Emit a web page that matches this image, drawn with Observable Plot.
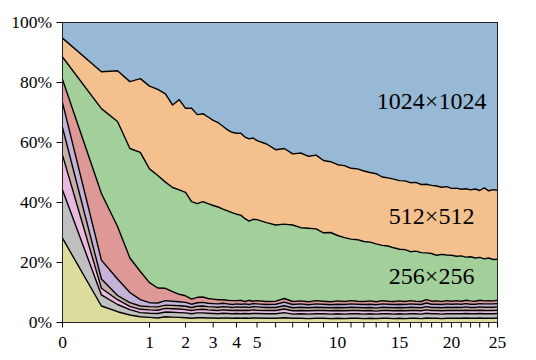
<!DOCTYPE html>
<html><head><meta charset="utf-8">
<script src="https://cdn.jsdelivr.net/npm/d3@7"></script>
<script src="https://cdn.jsdelivr.net/npm/@observablehq/plot@0.6"></script>
<style>html,body{margin:0;padding:0;background:#fff} svg{display:block}</style>
</head><body><div id="chart"></div>
<script>
// x positions (sqrt-scaled axis)
const xs = [0,0.2,0.4,0.6,0.8,1.0,1.2,1.4,1.6,1.8,2.0,2.2,2.4,2.6,2.8,3.0,3.2,3.4,3.6,3.8,4.0,4.2,4.4,4.6,4.8,5.0,
  5.5,6,6.5,7,7.5,8,8.5,9,9.5,10,10.5,11,11.5,12,12.5,13,13.5,14,14.5,15,15.5,16,16.5,17,17.5,18,18.5,19,19.5,20,20.5,21,21.5,22,22.5,23,23.5,24,24.5,25];

// cumulative share (%) up to and including each resolution
const cum4 = [28.1,5.5,3.6,2.5,1.9,1.7,1.5,1.9,1.8,1.7,1.6,1.4,1.6,1.6,1.5,1.5,1.4,1.5,1.5,1.4,1.5,1.4,1.5,1.4,1.5,1.5,
  1.4,1.4,1.6,1.4,1.4,1.3,1.4,1.4,1.3,1.4,1.3,1.4,1.4,1.3,1.4,1.3,1.4,1.4,1.3,1.4,1.3,1.4,1.4,1.3,1.5,1.4,1.4,1.3,1.4,1.4,1.4,1.4,1.5,1.4,1.4,1.5,1.4,1.4,1.4,1.5];
const cum8 = [44.2,9.2,6.0,4.3,3.3,3.1,3.0,3.5,3.4,3.3,3.2,2.9,3.2,3.2,3.1,3.0,2.9,3.1,3.0,2.9,3.0,2.9,3.0,2.9,3.0,3.0,
  2.9,2.9,3.3,2.8,2.9,2.8,2.9,2.9,2.8,2.9,2.8,2.9,2.9,2.8,2.9,2.8,2.9,2.9,2.8,2.9,2.8,2.9,2.9,2.8,3.1,2.9,2.9,2.8,2.9,2.9,2.9,2.9,3.0,2.9,2.9,3.0,2.9,2.9,2.9,3.0];
const cum16 = [55.8,11.4,7.6,5.4,4.4,4.2,4.1,4.7,4.6,4.5,4.3,4.0,4.3,4.4,4.2,4.1,4.0,4.2,4.1,4.0,4.1,4.0,4.1,4.0,4.2,4.1,
  4.0,4.0,4.5,3.9,4.0,3.9,4.0,4.0,3.9,4.0,3.9,4.0,4.0,3.9,4.0,3.8,4.0,4.0,3.9,4.0,3.9,4.0,4.0,3.9,4.2,4.0,4.0,3.9,4.0,4.0,4.0,4.0,4.1,4.0,4.0,4.1,4.0,4.0,4.0,4.1];
const cum32 = [65.0,14.5,9.0,6.6,5.5,5.3,5.2,5.8,5.7,5.6,5.4,5.0,5.4,5.5,5.3,5.2,5.1,5.3,5.2,5.0,5.2,5.1,5.2,5.0,5.3,5.2,
  5.0,5.0,5.6,4.9,5.1,4.9,5.1,5.0,4.9,5.0,4.9,5.1,5.0,4.9,5.0,4.8,5.1,5.0,4.9,5.0,4.9,5.1,5.0,4.9,5.3,5.0,5.0,4.9,5.1,5.0,5.1,5.0,5.2,5.0,5.0,5.2,5.1,5.1,5.1,5.2];
const cum64 = [73.3,20.8,14.5,10.0,7.6,6.6,6.5,7.3,7.1,6.9,6.7,6.1,6.6,6.7,6.4,6.3,6.2,6.4,6.2,6.0,6.2,6.1,6.2,6.0,6.3,6.2,
  6.0,6.1,6.8,6.0,6.2,5.9,6.2,6.1,5.9,6.1,6.0,6.2,6.1,6.0,6.1,5.9,6.2,6.1,6.0,6.1,6.0,6.2,6.1,6.0,6.5,6.1,6.1,6.0,6.2,6.1,6.2,6.1,6.3,6.1,6.1,6.3,6.2,6.2,6.2,6.3];
const cum128 = [81.0,43.0,32.0,21.5,17.0,13.3,11.5,11.4,10.3,9.4,8.9,7.8,8.4,8.5,8.0,7.8,7.6,7.6,7.4,7.3,7.3,7.4,7.0,7.4,7.1,7.3,
  7.0,7.1,8.0,7.0,7.2,6.9,7.3,7.1,6.9,7.2,7.0,7.3,7.1,7.0,7.2,6.9,7.3,7.1,7.0,7.2,7.0,7.3,7.1,7.0,7.6,7.1,7.2,7.0,7.3,7.1,7.3,7.1,7.4,7.2,7.1,7.4,7.2,7.3,7.2,7.4];
const cum256 = [88.5,71.3,67.0,58.0,56.7,51.2,49.0,46.8,45.0,44.2,43.4,40.3,39.6,40.3,39.6,39.0,38.5,37.8,37.2,36.6,36.1,35.8,34.6,33.8,34.4,34.3,
  33.3,32.5,32.8,32.5,31.6,31.4,31.2,29.9,30.0,29.0,28.3,27.8,27.6,27.0,26.8,26.2,25.7,25.5,24.9,24.4,24.3,23.6,23.8,23.3,23.2,23.0,22.4,22.7,22.5,22.4,22.1,22.2,21.8,21.9,21.5,21.7,21.2,21.5,21.0,21.1];
const cum512 = [94.8,83.6,83.9,80.3,81.3,78.8,77.7,76.2,72.5,74.3,71.4,71.4,69.3,69.6,68.5,67.4,66.6,65.4,64.2,63.4,63.1,63.1,61.8,61.2,61.5,60.6,
  59.5,57.6,58.0,56.2,56.5,55.4,55.8,54.0,53.6,52.6,52.3,51.4,51.2,50.5,50.0,49.6,48.5,48.2,47.8,47.3,47.2,46.6,46.7,46.0,46.1,45.7,45.5,45.1,45.3,44.7,44.8,44.4,44.6,44.2,44.5,44.0,44.9,43.9,44.3,44.1];
const cum1024 = xs.map(() => 100);

const layerNames = ["4×4","8×8","16×16","32×32","64×64","128×128","256×256","512×512","1024×1024"];
const layerColors = ["#dcdc9c","#c0c0c0","#eabade","#c8aea8","#c3b3d8","#de9896","#a2cf9a","#f4c18e","#98b9d6"];
const xTicks = [0,1,2,3,4,5,6,7,8,9,10,11,12,13,14,15,16,17,18,19,20,21,22,23,24,25];
const xTickLabels = [0,1,2,3,4,5,10,15,20,25];
const yTicks = [0,20,40,60,80,100];
const annLabels = ["1024×1024","512×512","256×256"];
const annX = [18,18,18];
const annY = [73.8,35.3,15.3];

const tops = [cum4,cum8,cum16,cum32,cum64,cum128,cum256,cum512,cum1024];
const rows = [];
tops.forEach((top, i) => {
  const bottom = i === 0 ? xs.map(() => 0) : tops[i - 1];
  xs.forEach((x, j) => rows.push({layer: layerNames[i], x, y1: bottom[j], y2: top[j]}));
});
const annotations = annLabels.map((label, i) => ({label, x: annX[i], y: annY[i]}));

const chart = Plot.plot({
  width: 536, height: 360,
  marginLeft: 62, marginRight: 39, marginTop: 22, marginBottom: 38,
  style: {fontFamily: "'Liberation Serif','Times New Roman','DejaVu Serif',serif", fontSize: "17.5px", color: "#000", background: "#fff"},
  x: {type: "sqrt", domain: [0, 25], label: null},
  y: {domain: [0, 100], label: null},
  color: {domain: layerNames, range: layerColors},
  marks: [
    Plot.areaY(rows, {x: "x", y1: "y1", y2: "y2", z: "layer", fill: "layer"}),
    ...tops.slice(0, 8).map(b => Plot.line(b, {x: (d, i) => xs[i], y: d => d, stroke: "#000", strokeWidth: 1.4})),
    Plot.frame({stroke: "#222", strokeWidth: 1}),
    Plot.axisX({ticks: xTicks, tickSize: 5.5, tickPadding: 8, label: null,
      tickFormat: d => xTickLabels.includes(d) ? String(d) : ""}),
    Plot.axisY({ticks: yTicks, tickSize: 5.5, tickPadding: 5, label: null, tickFormat: d => d + "%"}),
    Plot.text(annotations, {x: "x", y: "y", text: "label", fontSize: 24, fill: "#000"})
  ]
});
document.getElementById("chart").appendChild(chart);
</script>
</body></html>
